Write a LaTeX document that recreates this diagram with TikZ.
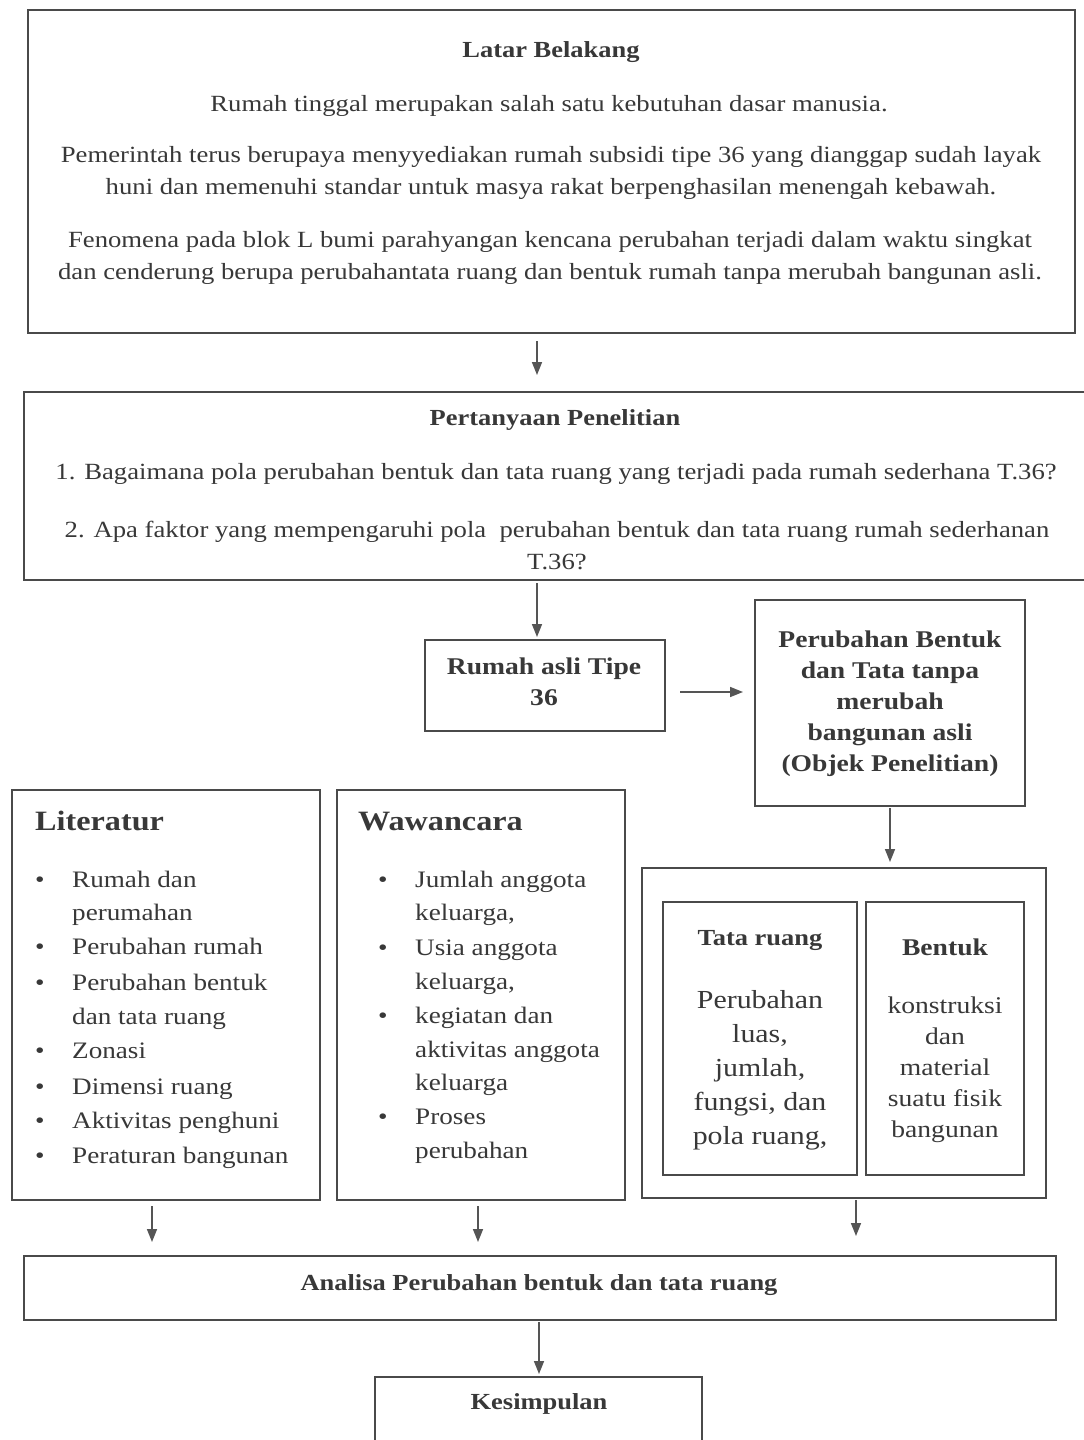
\documentclass[tikz,border=0pt]{standalone}
\usepackage{fontspec}
\setmainfont{Liberation Serif}[FakeStretch=1.15]
\usetikzlibrary{arrows.meta}
\definecolor{ink}{HTML}{383838}
\definecolor{edge}{HTML}{4A4A4A}
\definecolor{arrowc}{HTML}{555555}
\begin{document}
\begin{tikzpicture}[x=1pt,y=-1pt,
  box/.style={draw=edge,line width=2pt,inner sep=0pt},
  txt/.style={text=ink,align=center,inner sep=0pt,font=\fontsize{23.2}{32}\selectfont},
  txtb/.style={txt,font=\fontsize{23}{32}\selectfont\bfseries},
  midb/.style={txt,font=\fontsize{24}{31}\selectfont\bfseries},
  item/.style={text=ink,inner sep=0pt,anchor=base west,font=\fontsize{23.6}{30}\selectfont},
  head/.style={text=ink,inner sep=0pt,anchor=base west,font=\fontsize{28}{32}\selectfont\bfseries},
  arr/.style={draw=arrowc,line width=1.6pt,-{Triangle[length=13pt,width=10pt]}}
]
\useasboundingbox (0,0) rectangle (1084,1440);
\fill[white] (0,0) rectangle (1084,1440);

% boxes
\node[box,minimum width=1047pt,minimum height=323pt] (latar) at (551.5,171.5) {};
\node[box,minimum width=1071pt,minimum height=188pt] (pert) at (559.5,486) {};
\node[box,minimum width=240pt,minimum height=91pt] (rumah) at (545,685.5) {};
\node[box,minimum width=270pt,minimum height=206pt] (perub) at (890,703) {};
\node[box,minimum width=308pt,minimum height=410pt] (lit) at (166,995) {};
\node[box,minimum width=288pt,minimum height=410pt] (waw) at (481,995) {};
\node[box,minimum width=404pt,minimum height=330pt] (grp) at (844,1033) {};
\node[box,minimum width=194pt,minimum height=273pt] (tata) at (760,1038.5) {};
\node[box,minimum width=158pt,minimum height=273pt] (bent) at (945,1038.5) {};
\node[box,minimum width=1032pt,minimum height=64pt] (anal) at (540,1288) {};
\node[box,minimum width=327pt,minimum height=73pt] (kes) at (538.5,1413.5) {};

% Latar Belakang
\node[txtb] (lt) at (551,52) {Latar Belakang};
\node[txt] (l1) at (549,106) {Rumah tinggal merupakan salah satu kebutuhan dasar manusia.};
\node[txt] (l2) at (551,173) {Pemerintah terus berupaya menyyediakan rumah subsidi tipe 36 yang dianggap sudah layak\\huni dan memenuhi standar untuk masya rakat berpenghasilan menengah kebawah.};
\node[txt] (l3) at (550,257.5) {Fenomena pada blok L bumi parahyangan kencana perubahan terjadi dalam waktu singkat\\dan cenderung berupa perubahantata ruang dan bentuk rumah tanpa merubah bangunan asli.};

% Pertanyaan
\node[txtb] (pt) at (555,420) {Pertanyaan Penelitian};
\node[txt] (q1) at (556,474) {1. Bagaimana pola perubahan bentuk dan tata ruang yang terjadi pada rumah sederhana T.36?};
\node[txt] (q2) at (557,545) {2. Apa faktor yang mempengaruhi pola\ \ perubahan bentuk dan tata ruang rumah sederhanan\\T.36?};

% Rumah asli
\node[midb] (rt) at (544,682) {Rumah asli Tipe\\36};
% Perubahan
\node[midb] (pb) at (890,704) {Perubahan Bentuk\\dan Tata tanpa\\merubah\\bangunan asli\\(Objek Penelitian)};

% Literatur
\node[head] (lith) at (35,830) {Literatur};
\foreach \n/\b/\y/\t in {a/1/887/Rumah dan, b/0/920/perumahan, c/1/954/Perubahan rumah, d/1/990/Perubahan bentuk, e/0/1024/dan tata ruang, f/1/1058/Zonasi, g/1/1094/Dimensi ruang, h/1/1128/Aktivitas penghuni, i/1/1163/Peraturan bangunan}{
  \node[item] (lit\n) at (72,\y) {\t};
  \ifnum\b=1 \node[item] (litb\n) at (35,\y) {•};\fi
}
% Wawancara
\node[head] (wawh) at (358,830) {Wawancara};
\foreach \n/\b/\y/\t in {a/1/887/Jumlah anggota, b/0/920/{keluarga,}, c/1/955/Usia anggota, d/0/989/{keluarga,}, e/1/1023/kegiatan dan, f/0/1057/aktivitas anggota, g/0/1090/keluarga, h/1/1124/Proses, i/0/1158/perubahan}{
  \node[item] (waw\n) at (415,\y) {\t};
  \ifnum\b=1 \node[item] (wawb\n) at (378,\y) {•};\fi
}

% Tata ruang / Bentuk
\node[txtb] (tt) at (760,940) {Tata ruang};
\node[txt,font=\fontsize{26}{34}\selectfont] (tb) at (760,1070) {Perubahan\\luas,\\jumlah,\\fungsi, dan\\pola ruang,};
\node[txtb,font=\fontsize{24}{31}\selectfont\bfseries] (bt) at (945,947) {Bentuk};
\node[txt,font=\fontsize{24}{31}\selectfont] (bb) at (945,1070) {konstruksi\\dan\\material\\suatu fisik\\bangunan};

% Analisa, Kesimpulan
\node[txtb] (at) at (539,1285) {Analisa Perubahan bentuk dan tata ruang};
\node[txtb] (kt) at (539,1404) {Kesimpulan};

% arrows
\coordinate (c1) at (537,0);
\coordinate (c4) at (890,0);
\coordinate (c5) at (152,0);
\coordinate (c6) at (478,0);
\coordinate (c7) at (856,0);
\coordinate (c8) at (539,0);
\coordinate (r3) at (0,692);
\draw[arr,shorten <=7pt,shorten >=16pt] (latar.south -| c1) -- (pert.north -| c1);
\draw[arr,shorten <=2pt,shorten >=2pt] (pert.south -| c1) -- (rumah.north -| c1);
\draw[arr,shorten <=14pt,shorten >=11pt] (rumah.east |- r3) -- (perub.west |- r3);
\draw[arr,shorten <=1pt,shorten >=5pt] (perub.south -| c4) -- (grp.north -| c4);
\draw[arr,shorten <=5pt,shorten >=13pt] (lit.south -| c5) -- (anal.north -| c5);
\draw[arr,shorten <=5pt,shorten >=13pt] (waw.south -| c6) -- (anal.north -| c6);
\draw[arr,shorten <=1pt,shorten >=19pt] (grp.south -| c7) -- (anal.north -| c7);
\draw[arr,shorten <=1pt,shorten >=2pt] (anal.south -| c8) -- (kes.north -| c8);
\end{tikzpicture}
\end{document}
